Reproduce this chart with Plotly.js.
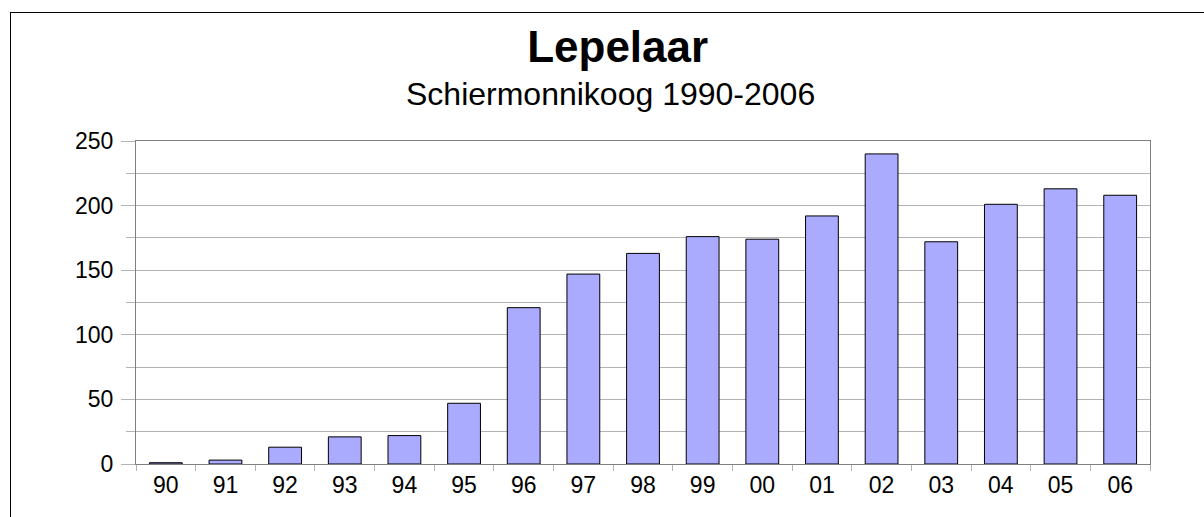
<!DOCTYPE html>
<html>
<head>
<meta charset="utf-8">
<script src="https://cdn.plot.ly/plotly-3.0.1.min.js"></script>
<style>
  html, body { margin: 0; padding: 0; background: #ffffff; }
  #chart { position: absolute; left: 0; top: 0; width: 1204px; height: 517px; }
  #frame { position: absolute; left: 10px; top: 12px; width: 1300px; height: 600px;
           border-left: 1px solid #000; border-top: 1px solid #000; pointer-events: none; }
</style>
</head>
<body>
<div id="chart"></div>
<div id="frame"></div>
<script>
const years = ['90','91','92','93','94','95','96','97','98','99','00','01','02','03','04','05','06'];
const counts = [1, 3, 13, 21, 22, 47, 121, 147, 163, 176, 174, 192, 240, 172, 201, 213, 208];
const yTicks = [0, 50, 100, 150, 200, 250];
const titleText = 'Lepelaar';
const subtitleText = 'Schiermonnikoog 1990-2006';

const FONT = 'Liberation Sans, Arial, sans-serif';

const trace = {
  type: 'bar',
  x: years,
  y: counts,
  marker: { color: '#aaaaff', line: { color: '#000000', width: 1 } },
  hoverinfo: 'x+y'
};

const layout = {
  width: 1204,
  height: 517,
  margin: { l: 136, r: 54, t: 141, b: 53, pad: 0 },
  paper_bgcolor: 'rgba(0,0,0,0)',
  plot_bgcolor: '#ffffff',
  font: { family: FONT, color: '#000000', size: 23 },
  showlegend: false,
  bargap: 0.45,
  title: {
    text: '<b>' + titleText + '</b>',
    font: { family: FONT, size: 44, color: '#000000' },
    x: 0.475, xanchor: 'center', xref: 'paper',
    y: 0.91, yanchor: 'middle', yref: 'container'
  },
  annotations: [{
    text: subtitleText,
    xref: 'paper', yref: 'paper',
    x: 0.4675, y: 1.0,
    xanchor: 'center', yanchor: 'bottom',
    yshift: 27,
    showarrow: false,
    font: { family: FONT, size: 32, color: '#000000' }
  }],
  xaxis: {
    type: 'category',
    tickson: 'boundaries',
    ticks: 'outside',
    ticklen: 6,
    tickcolor: '#b3b3b3',
    showline: true,
    linecolor: '#808080',
    linewidth: 1,
    mirror: true,
    showgrid: false,
    tickfont: { family: FONT, size: 23, color: '#000000' },
    fixedrange: true
  },
  yaxis: {
    range: [0, 250],
    tickvals: yTicks,
    ticktext: yTicks.map(String),
    ticks: 'outside',
    ticklen: 14,
    tickcolor: '#b3b3b3',
    showline: true,
    linecolor: '#808080',
    linewidth: 1,
    mirror: true,
    showgrid: true,
    gridcolor: '#b3b3b3',
    gridwidth: 1,
    zeroline: false,
    ticklabelstandoff: 3,
    minor: { dtick: 25, tick0: 0, ticks: 'outside', ticklen: 9, tickcolor: '#b3b3b3', showgrid: true, gridcolor: '#b3b3b3', gridwidth: 1 },
    tickfont: { family: FONT, size: 23, color: '#000000' },
    fixedrange: true
  }
};

Plotly.newPlot('chart', [trace], layout, { displayModeBar: false });
</script>
</body>
</html>
